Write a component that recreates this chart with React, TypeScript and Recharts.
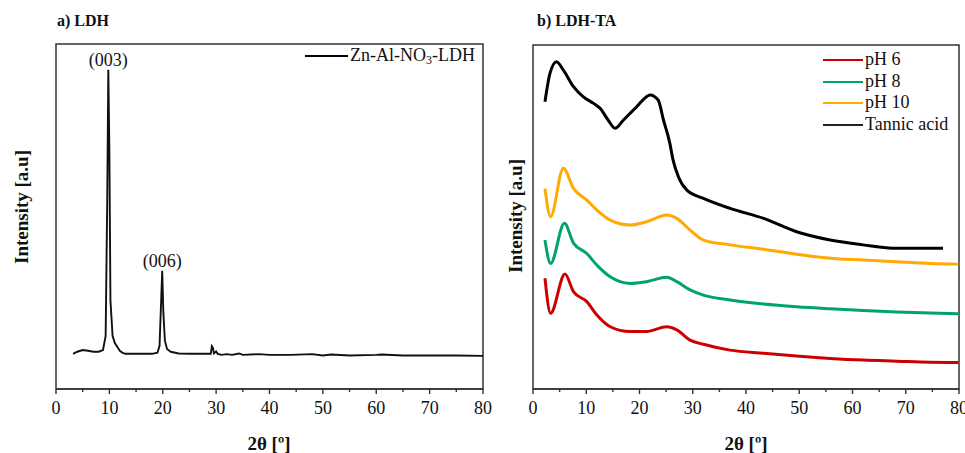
import React from 'react';
import { LineChart, Line, XAxis, YAxis, ReferenceDot, ReferenceArea } from 'recharts';

const xTicks = [0, 5, 10, 15, 20, 25, 30, 35, 40, 45, 50, 55, 60, 65, 70, 75, 80];

const ldh = [
  { t: 3.2, v: 10.2 }, { t: 4, v: 10.8 }, { t: 5, v: 11.3 }, { t: 6, v: 11.1 }, { t: 7, v: 10.8 },
  { t: 8, v: 10.8 }, { t: 8.8, v: 11.3 }, { t: 9.3, v: 15.4 }, { t: 9.6, v: 54.7 }, { t: 9.8, v: 92.5 },
  { t: 10.0, v: 69 }, { t: 10.2, v: 25.6 }, { t: 10.6, v: 15.4 }, { t: 11, v: 13.4 }, { t: 11.5, v: 12.2 },
  { t: 12, v: 11 }, { t: 12.5, v: 10.5 }, { t: 13, v: 10.2 }, { t: 15, v: 10.2 }, { t: 18, v: 10.2 },
  { t: 19, v: 10.5 }, { t: 19.4, v: 12.5 }, { t: 19.7, v: 25.6 }, { t: 19.9, v: 34.3 }, { t: 20.1, v: 22.7 },
  { t: 20.4, v: 14 }, { t: 20.8, v: 11.6 }, { t: 21.5, v: 10.8 }, { t: 23, v: 10.3 }, { t: 25, v: 10.2 },
  { t: 29, v: 10.2 }, { t: 29.2, v: 12.4 }, { t: 29.4, v: 11.9 }, { t: 29.6, v: 10.3 }, { t: 30, v: 10.9 },
  { t: 30.3, v: 10.2 }, { t: 31, v: 9.9 }, { t: 32, v: 10.1 }, { t: 33, v: 9.9 }, { t: 34.3, v: 10.3 },
  { t: 35, v: 9.9 }, { t: 38, v: 10.1 }, { t: 40, v: 9.9 }, { t: 44, v: 9.9 }, { t: 48, v: 10.1 },
  { t: 50, v: 9.7 }, { t: 51.5, v: 10 }, { t: 55, v: 9.7 }, { t: 60, v: 9.9 }, { t: 61, v: 10 },
  { t: 65, v: 9.7 }, { t: 70, v: 9.7 }, { t: 75, v: 9.7 }, { t: 80, v: 9.6 },
];

const peakLabels = [
  { t: 9.8, v: 92.5, text: '(003)' },
  { t: 19.9, v: 34.3, text: '(006)' },
];

const ph6 = [
  { t: 2.25, v: 32.2 }, { t: 3.3, v: 22.0 }, { t: 6.0, v: 33.4 }, { t: 7.6, v: 28.3 }, { t: 10.1, v: 25.4 },
  { t: 12, v: 21.5 }, { t: 14.5, v: 18.1 }, { t: 18.2, v: 16.7 }, { t: 21.3, v: 16.7 }, { t: 25.1, v: 18.1 },
  { t: 27, v: 17.2 }, { t: 29.5, v: 14.2 }, { t: 32, v: 13.0 }, { t: 37, v: 11.3 }, { t: 43.3, v: 10.4 },
  { t: 49.5, v: 9.6 }, { t: 55.8, v: 8.9 }, { t: 62, v: 8.4 }, { t: 68.3, v: 8.1 }, { t: 74.6, v: 7.8 },
  { t: 79.9, v: 7.7 },
];

const ph8 = [
  { t: 2.25, v: 43.3 }, { t: 3.3, v: 36.5 }, { t: 5.9, v: 48.2 }, { t: 7.6, v: 42.4 }, { t: 10.1, v: 39.4 },
  { t: 12, v: 36.0 }, { t: 14.5, v: 32.6 }, { t: 18.2, v: 30.7 }, { t: 21.3, v: 31.2 }, { t: 25.1, v: 32.5 },
  { t: 27, v: 31.2 }, { t: 29.5, v: 28.8 }, { t: 32, v: 27.3 }, { t: 37, v: 25.9 }, { t: 43.3, v: 24.7 },
  { t: 49.5, v: 23.9 }, { t: 55.8, v: 23.3 }, { t: 62, v: 22.8 }, { t: 68.3, v: 22.4 }, { t: 74.6, v: 22.1 },
  { t: 79.9, v: 21.9 },
];

const ph10 = [
  { t: 2.25, v: 58.3 }, { t: 3.3, v: 50.1 }, { t: 5.7, v: 64.2 }, { t: 7.6, v: 58.3 }, { t: 10.1, v: 54.9 },
  { t: 12, v: 52.0 }, { t: 14.5, v: 49.1 }, { t: 18.2, v: 47.7 }, { t: 21.3, v: 48.6 }, { t: 25.1, v: 50.6 },
  { t: 27, v: 49.6 }, { t: 29.5, v: 46.2 }, { t: 32, v: 43.3 }, { t: 37, v: 41.9 }, { t: 43.3, v: 40.6 },
  { t: 49.5, v: 39.2 }, { t: 55.8, v: 38.0 }, { t: 62, v: 37.5 }, { t: 68.3, v: 37.0 }, { t: 74.6, v: 36.5 },
  { t: 79.9, v: 36.3 },
];

const tannic = [
  { t: 2.25, v: 83.5 }, { t: 3.2, v: 91.8 }, { t: 4.4, v: 95.1 }, { t: 5.7, v: 92.7 }, { t: 7.6, v: 87.9 },
  { t: 9.4, v: 85.0 }, { t: 11.3, v: 83.1 }, { t: 12.6, v: 81.6 }, { t: 14.1, v: 78.2 }, { t: 15.4, v: 75.8 },
  { t: 17, v: 78.2 }, { t: 19.5, v: 82.1 }, { t: 22, v: 85.5 }, { t: 23.5, v: 84.0 }, { t: 24.5, v: 78.2 },
  { t: 25.7, v: 71.4 }, { t: 26.3, v: 66.6 }, { t: 27.3, v: 61.7 }, { t: 28.9, v: 57.8 }, { t: 32, v: 55.4 },
  { t: 37, v: 52.5 }, { t: 43.3, v: 49.6 }, { t: 49.5, v: 45.7 }, { t: 55.8, v: 43.3 }, { t: 62, v: 41.9 },
  { t: 68.3, v: 40.9 }, { t: 77, v: 40.9 },
];

const rightSeries = [
  { name: 'pH 6', data: ph6, color: '#cc0000' },
  { name: 'pH 8', data: ph8, color: '#00a36c' },
  { name: 'pH 10', data: ph10, color: '#ffaa00' },
  { name: 'Tannic acid', data: tannic, color: '#000000' },
];

const SERIF = '"Liberation Serif", Tinos, "Times New Roman", Times, serif';
const AXIS = '#333333';

const Tick = (props: any) => {
  const { x, y, payload } = props;
  const major = payload.value % 10 === 0;
  return (
    <g>
      <line x1={x} x2={x} y1={y} y2={y + (major ? 5 : 3)} stroke={AXIS} strokeWidth={1.4} />
      {major && (
        <text x={x} y={y + 25} textAnchor="middle" fontFamily={SERIF} fontSize={18} fill="#111">
          {payload.value}
        </text>
      )}
    </g>
  );
};

const frameAndAxes = [
  <XAxis key="xb" xAxisId="b" dataKey="t" type="number" domain={[0, 80]} ticks={xTicks} allowDataOverflow
    tickSize={0} tickMargin={0} tick={<Tick />} axisLine={{ stroke: AXIS, strokeWidth: 1.5 }} height={30} interval={0} />,
  <YAxis key="yl" yAxisId="l" type="number" domain={[0, 100]} tick={false} tickLine={false} allowDataOverflow
    axisLine={{ stroke: AXIS, strokeWidth: 1.5 }} width={0} />,
  <ReferenceArea key="frame" xAxisId="b" yAxisId="l" x1={0} x2={80} y1={0} y2={100}
    fill="none" fillOpacity={0} stroke={AXIS} strokeWidth={1.5} strokeOpacity={1} />,
];

const textStyle: React.CSSProperties = { position: 'absolute', fontFamily: SERIF, fontWeight: 'bold', color: '#111', whiteSpace: 'nowrap' };
const legendText: React.CSSProperties = { fontFamily: SERIF, fontSize: 18, color: '#111', whiteSpace: 'nowrap' };

export default function App() {
  return (
    <div style={{ position: 'absolute', left: 0, top: 0, width: 965, height: 453, background: '#fff', overflow: 'hidden' }}>
      <div style={{ position: 'absolute', left: 0, top: 0 }}>
        <LineChart width={500} height={453} margin={{ top: 44, right: 17, bottom: 34, left: 56 }}>
          {frameAndAxes}
          <Line data={ldh} xAxisId="b" yAxisId="l" dataKey="v" type="linear" stroke="#111" strokeWidth={1.9}
            dot={false} isAnimationActive={false} name="Zn-Al-NO3-LDH" />
          {peakLabels.map((p) => (
            <ReferenceDot key={p.text} xAxisId="b" yAxisId="l" x={p.t} y={p.v} r={0} stroke="none" fill="none"
              label={{ value: p.text, position: 'top', offset: 4, fontFamily: SERIF, fontSize: 18, fill: '#111' }} />
          ))}
        </LineChart>
      </div>
      <div style={{ position: 'absolute', left: 490, top: 0 }}>
        <LineChart width={475} height={453} margin={{ top: 45, right: 6, bottom: 34, left: 43 }}>
          {frameAndAxes}
          {rightSeries.map((s) => (
            <Line key={s.name} data={s.data} xAxisId="b" yAxisId="l" dataKey="v" name={s.name} type="monotone"
              stroke={s.color} strokeWidth={3} dot={false} isAnimationActive={false} />
          ))}
        </LineChart>
      </div>

      <div style={{ position: 'absolute', left: 305, top: 45, display: 'flex', alignItems: 'center', ...legendText }}>
        <div style={{ width: 43, height: 2, background: '#000', marginRight: 2 }} />
        <span>Zn-Al-NO<sub style={{ fontSize: 12, verticalAlign: -3, lineHeight: 0 }}>3</sub>-LDH</span>
      </div>
      <div style={{ position: 'absolute', left: 823, top: 49, lineHeight: '21.7px', ...legendText }}>
        {rightSeries.map((s) => (
          <div key={s.name} style={{ display: 'flex', alignItems: 'center' }}>
            <div style={{ width: 40, height: 2, background: s.color === '#000000' ? '#222' : s.color, marginRight: 2 }} />
            <span>{s.name}</span>
          </div>
        ))}
      </div>

      <div style={{ ...textStyle, left: 57, top: 12, fontSize: 16 }}>a) LDH</div>
      <div style={{ ...textStyle, left: 537, top: 12, fontSize: 16 }}>b) LDH-TA</div>
      <div style={{ ...textStyle, left: 269, top: 433, fontSize: 19, transform: 'translateX(-50%)' }}>2θ [º]</div>
      <div style={{ ...textStyle, left: 746, top: 433, fontSize: 19, transform: 'translateX(-50%)' }}>2θ [º]</div>
      <div style={{ ...textStyle, left: 22, top: 207, fontSize: 19, transform: 'translate(-50%, -50%) rotate(-90deg)' }}>Intensity [a.u]</div>
      <div style={{ ...textStyle, left: 516, top: 216, fontSize: 19, transform: 'translate(-50%, -50%) rotate(-90deg)' }}>Intensity [a.u]</div>
    </div>
  );
}
